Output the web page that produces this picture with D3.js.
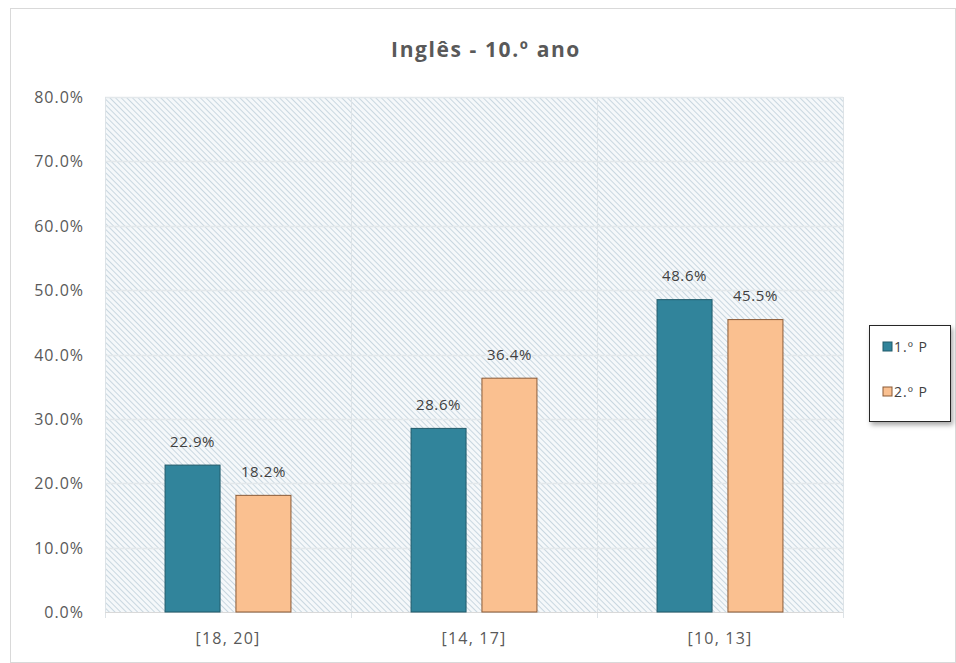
<!DOCTYPE html>
<html>
<head>
<meta charset="utf-8">
<script src="https://cdn.jsdelivr.net/npm/d3@7"></script>
<style>
  body { margin: 0; background: #fff; }
  svg { font-family: "Open Sans", "DejaVu Sans", sans-serif; }
</style>
</head>
<body>
<div id="chart"></div>
<script>
// 資料
var categories = ['[18, 20]', '[14, 17]', '[10, 13]'];
var seriesNames = ['1.º P', '2.º P'];
var p1Values = [22.9, 28.6, 48.6];
var p2Values = [18.2, 36.4, 45.5];
var yTicks = [0, 10, 20, 30, 40, 50, 60, 70, 80];

var colors = ['#31849b', '#fac090'];
var strokes = ['#215a6a', '#8a5a36'];

const width = 956, height = 663;
const margin = {top: 97, right: 113, bottom: 51, left: 105};

var rows = [];
categories.forEach(function(c, i) {
  rows.push({cat: c, series: 0, value: p1Values[i]});
  rows.push({cat: c, series: 1, value: p2Values[i]});
});

var svg = d3.select('#chart').append('svg')
  .attr('width', width)
  .attr('height', height);

// 外框
svg.append('rect')
  .attr('x', 10.5).attr('y', 8.5)
  .attr('width', width - 11).attr('height', height - 9)
  .attr('fill', '#fff')
  .attr('stroke', '#d9d9d9');

// 斜線底紋
var defs = svg.append('defs');
var pat = defs.append('pattern')
  .attr('id', 'hatch')
  .attr('patternUnits', 'userSpaceOnUse')
  .attr('width', 4).attr('height', 4)
  .attr('patternTransform', 'rotate(-45)');
pat.append('rect').attr('width', 4).attr('height', 4).attr('fill', '#f5f8fa');
pat.append('line')
  .attr('x1', 0).attr('y1', 0).attr('x2', 0).attr('y2', 4)
  .attr('stroke', '#c4d4de').attr('stroke-width', 1.8);

var x0 = d3.scaleBand()
  .domain(categories)
  .range([margin.left, width - margin.right]);
var x1 = d3.scaleBand()
  .domain([0, 1])
  .range([0, x0.bandwidth()])
  .paddingInner(0.21)
  .paddingOuter(0.84);
var y = d3.scaleLinear()
  .domain([0, 80])
  .range([height - margin.bottom, margin.top]);

var plotW = width - margin.right - margin.left;
var plotH = height - margin.bottom - margin.top;

svg.append('rect')
  .attr('x', margin.left).attr('y', margin.top)
  .attr('width', plotW).attr('height', plotH)
  .attr('fill', 'url(#hatch)');

// 格線
svg.append('g')
  .selectAll('line')
  .data(yTicks.slice(1))
  .join('line')
  .attr('x1', margin.left).attr('x2', width - margin.right)
  .attr('y1', d => Math.round(y(d)) + 0.5).attr('y2', d => Math.round(y(d)) + 0.5)
  .attr('stroke', '#e3e8eb').attr('stroke-width', 1.5);

var bounds = categories.map(c => x0(c)).concat([width - margin.right]);
svg.append('g')
  .selectAll('line')
  .data(bounds)
  .join('line')
  .attr('x1', d => Math.round(d) + 0.5).attr('x2', d => Math.round(d) + 0.5)
  .attr('y1', margin.top).attr('y2', height - margin.bottom + 6)
  .attr('stroke', '#dde3e7');

// X軸
svg.append('line')
  .attr('x1', margin.left).attr('x2', width - margin.right)
  .attr('y1', y(0) + 0.5).attr('y2', y(0) + 0.5)
  .attr('stroke', '#d9d9d9');

// bar
svg.append('g')
  .selectAll('rect')
  .data(rows)
  .join('rect')
  .attr('x', d => x0(d.cat) + x1(d.series) + 0.5)
  .attr('y', d => y(d.value) + 0.5)
  .attr('width', x1.bandwidth() - 1)
  .attr('height', d => y(0) - y(d.value) - 0.5)
  .attr('fill', d => colors[d.series])
  .attr('stroke', d => strokes[d.series])
  .attr('stroke-width', 1);

// 數值標籤
svg.append('g')
  .selectAll('text')
  .data(rows)
  .join('text')
  .attr('x', d => x0(d.cat) + x1(d.series) + x1.bandwidth() / 2)
  .attr('y', d => y(d.value) - 18)
  .attr('text-anchor', 'middle')
  .attr('font-size', 15)
  .attr('letter-spacing', 0.6)
  .attr('fill', '#404040')
  .text(d => d.value.toFixed(1) + '%');

// Y軸標籤
svg.append('g')
  .selectAll('text')
  .data(yTicks)
  .join('text')
  .attr('x', 84)
  .attr('y', d => y(d) + 6)
  .attr('text-anchor', 'end')
  .attr('font-size', 16)
  .attr('letter-spacing', 1)
  .attr('fill', '#595959')
  .text(d => d.toFixed(1) + '%');

// X軸標籤
svg.append('g')
  .selectAll('text')
  .data(categories)
  .join('text')
  .attr('x', d => x0(d) + x0.bandwidth() / 2)
  .attr('y', 644)
  .attr('text-anchor', 'middle')
  .attr('font-size', 16)
  .attr('letter-spacing', 1.2)
  .attr('fill', '#595959')
  .text(d => d);

// 標題
svg.append('text')
  .attr('x', 486).attr('y', 57)
  .attr('text-anchor', 'middle')
  .attr('font-size', 21)
  .attr('font-weight', 'bold')
  .attr('letter-spacing', 1.6)
  .attr('fill', '#595959')
  .text('Inglês - 10.º ano');

// 圖例
var shadow = defs.append('filter').attr('id', 'shadow')
  .attr('x', '-20%').attr('y', '-20%').attr('width', '150%').attr('height', '150%');
shadow.append('feDropShadow')
  .attr('dx', 2).attr('dy', 3).attr('stdDeviation', 2.5)
  .attr('flood-color', '#000').attr('flood-opacity', 0.35);

var legend = svg.append('g').attr('transform', 'translate(869, 325)');
legend.append('rect')
  .attr('x', 0.5).attr('y', 0.5)
  .attr('width', 81).attr('height', 96)
  .attr('fill', '#fff')
  .attr('stroke', '#262626')
  .attr('filter', 'url(#shadow)');
var items = legend.selectAll('g.item')
  .data(seriesNames)
  .join('g')
  .attr('class', 'item')
  .attr('transform', (d, i) => `translate(14, ${17 + i * 45})`);
items.append('rect')
  .attr('width', 9).attr('height', 9)
  .attr('fill', (d, i) => colors[i])
  .attr('stroke', (d, i) => strokes[i]);
items.append('text')
  .attr('x', 11).attr('y', 10)
  .attr('font-size', 14)
  .attr('letter-spacing', 1)
  .attr('fill', '#404040')
  .text(d => d);
</script>
</body>
</html>
